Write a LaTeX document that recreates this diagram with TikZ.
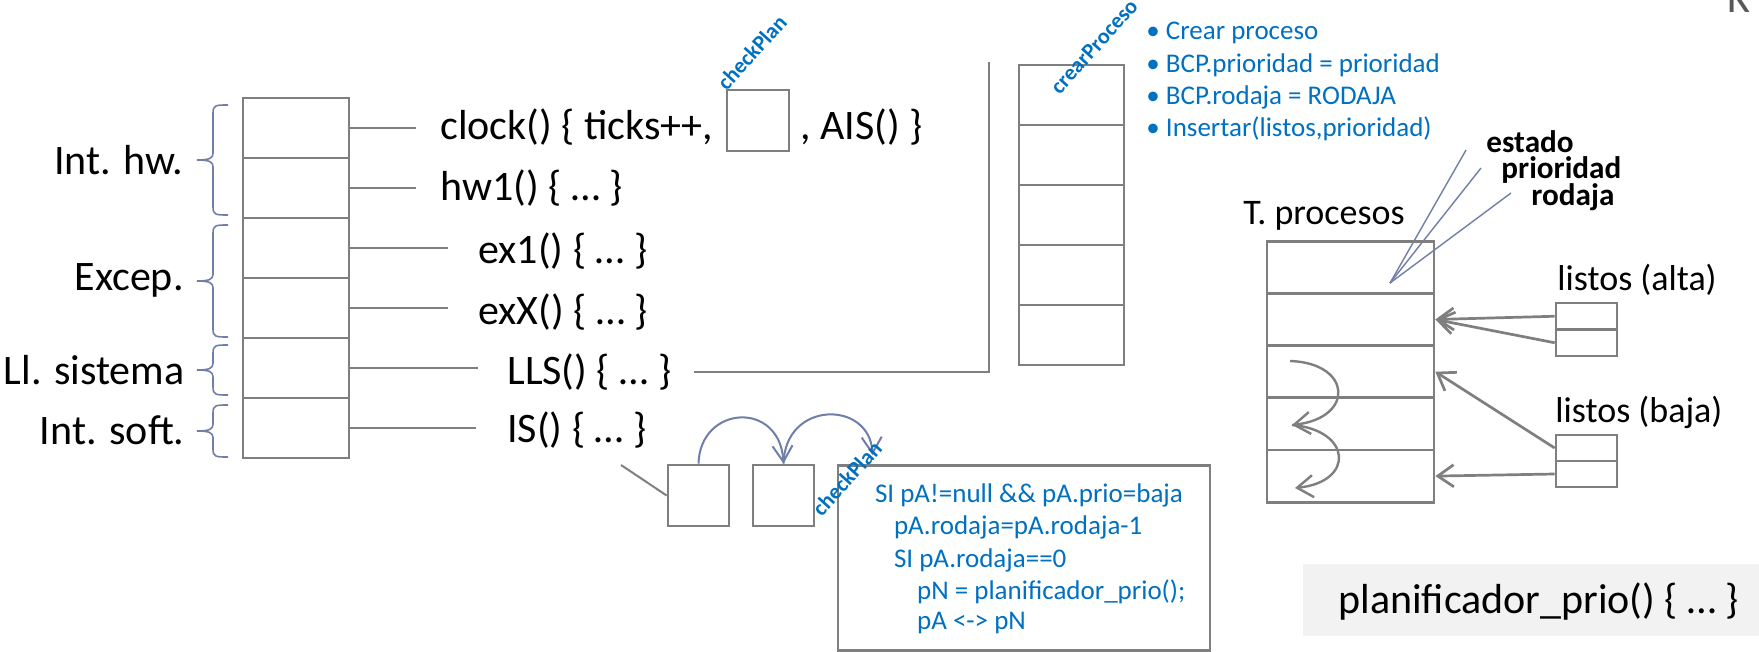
\documentclass[tikz,border=0pt]{standalone}
\usepackage{fontspec}
\setmainfont{Carlito}
\usetikzlibrary{arrows.meta}
\definecolor{lg}{RGB}{127,127,127}
\definecolor{bl}{RGB}{0,112,192}
\definecolor{bg}{RGB}{112,126,168}
\definecolor{pan}{RGB}{242,242,242}
\definecolor{kg}{RGB}{89,89,89}
\begin{document}
\begin{tikzpicture}[x=0.5pt,y=-0.5pt,
  cell/.style={draw=lg, line width=1.35pt, inner sep=0pt},
  gline/.style={draw=lg, line width=1.35pt},
  bline/.style={draw=bg, line width=0.7pt},
  brc/.style={draw=bg, line width=0.8pt},
  txt/.style={font=\fontsize{21}{25}\selectfont, inner sep=0pt},
  stxt/.style={font=\fontsize{18}{22}\selectfont, inner sep=0pt},
  btxt/.style={text=bl, font=\fontsize{13.5}{16}\selectfont, inner sep=0pt, anchor=west},
  rot/.style={text=bl, font=\bfseries\fontsize{11}{13}\selectfont, inner sep=0pt, anchor=south west, rotate=48},
  lab/.style={font=\bfseries\fontsize{15.6}{18}\selectfont, inner sep=0pt, anchor=west},
  arr/.style={-{Straight Barb[length=8pt,width=11pt]}},
]
\useasboundingbox (0,0) rectangle (1759,652);

% ---------- left vector stack
\foreach \i/\y in {1/128,2/188,3/248,4/308,5/368,6/428}
  \node[cell, minimum width=53pt, minimum height=30pt] (s\i) at (296,\y) {};

% braces and their labels
\foreach \t/\b in {105/215, 225/337, 345/395, 405/457}{
  \pgfmathsetmacro\m{(\t+\b)/2}
  \draw[brc] (228,\t) .. controls (216,\t) and (213,\t) .. (213,\t+8)
    -- (213,\m-7) .. controls (213,\m-2) and (210,\m) .. (197,\m)
    .. controls (210,\m) and (213,\m+2) .. (213,\m+7)
    -- (213,\b-8) .. controls (213,\b) and (216,\b) .. (228,\b);
}
\node[txt, anchor=east] (lhw) at (184,160) {Int. hw.};
\node[txt, anchor=east] (lex) at (184,280) {Excep.};
\node[txt, anchor=east] (lls) at (185,370) {Ll. sistema};
\node[txt, anchor=east] (lis) at (185,430) {Int. soft.};

% handlers
\node[txt, anchor=west] (t1) at (440,127) {clock() \{ ticks++,};
\node[cell, minimum width=31pt, minimum height=30.5pt] (cp) at (758,120.5) {};
\node[txt, anchor=west] (t1b) at (800,127) {, AIS() \}};
\node[rot] (cpl1) at (727,92) {checkPlan};
\node[txt, anchor=west] (t2) at (440,188) {hw1() \{ … \}};
\node[txt, anchor=west] (t3) at (478,251) {ex1() \{ … \}};
\node[txt, anchor=west] (t4) at (478,312) {exX() \{ … \}};
\node[txt, anchor=west] (t5) at (507,372) {LLS() \{ … \}};
\node[txt, anchor=west] (t6) at (507,430) {IS() \{ … \}};

\draw[gline] (s1.east) -- ++(66,0);
\draw[gline] (s2.east) -- ++(66,0);
\draw[gline] (s3.east) -- ++(98,0);
\draw[gline] (s4.east) -- ++(98,0);
\draw[gline] (s5.east) -- ++(128,0);
\draw[gline] (s6.east) -- ++(126,0);

% LLS to system-call table
\coordinate (lt) at (989,62);
\draw[gline] ([xshift=11pt]t5.east) -- (lt |- t5.east) -- (lt);

% ---------- system call table
\foreach \i/\y in {1/95,2/155,3/215,4/275,5/335}
  \node[cell, minimum width=52.5pt, minimum height=30pt] (c\i) at (1071.5,\y) {};
\node[rot] (crl) at (1060,96) {crearProceso};

\node[btxt] (bu1) at (1146,33) {• Crear proceso};
\node[btxt] (bu2) at (1146,65) {• BCP.prioridad = prioridad};
\node[btxt] (bu3) at (1146,97) {• BCP.rodaja = RODAJA};
\node[btxt] (bu4) at (1146,129) {• Insertar(listos,prioridad)};

% ---------- process table
\node[lab] (est) at (1486,142) {estado};
\node[lab] (pri) at (1501,170) {prioridad};
\node[lab] (rod) at (1531,197) {rodaja};
\coordinate (ptr) at (1390,283);
\coordinate (pe) at (1466,150);
\coordinate (pp) at (1481,168);
\coordinate (pr) at (1511,193);
\draw[bline] (pe) -- (ptr);
\draw[bline] (pp) -- (ptr);
\draw[bline] (pr) -- (ptr);

\node[stxt, anchor=west] (tp) at (1243,216) {T. procesos};
\foreach \i/\y in {1/267.3,2/319.5,3/371.7,4/423.9,5/476.1}
  \node[cell, minimum width=83.5pt, minimum height=26.1pt] (T\i) at (1350.5,\y) {};

\node[stxt, anchor=west] (la) at (1557,280) {listos (alta)};
\node[cell, minimum width=30.5pt, minimum height=13.25pt] (a1) at (1586.5,316.25) {};
\node[cell, minimum width=30.5pt, minimum height=13.25pt] (a2) at (1586.5,342.75) {};
\node[stxt, anchor=west] (lb) at (1555,412) {listos (baja)};
\node[cell, minimum width=30.5pt, minimum height=13pt] (b1) at (1586.5,448) {};
\node[cell, minimum width=30.5pt, minimum height=13pt] (b2) at (1586.5,474) {};

\draw[gline, arr] (a1.west) -- (T2.east);
\draw[gline, arr] (a2.west) -- (T2.east);
\draw[gline, arr] (b1.west) -- (T3.east);
\draw[gline, arr] (b2.west) -- (T5.east);

\coordinate (k0) at (1290,361);
\coordinate (k1) at (1292,425);
\coordinate (k2) at (1295,488);
\draw[gline, line width=1.2pt, arr] (k0) .. controls (1352,363) and (1355,418) .. (k1);
\draw[gline, line width=1.2pt, arr] (k1) .. controls (1352,430) and (1355,482) .. (k2);

% ---------- soft interrupt queue
\node[cell, minimum width=30.5pt, minimum height=30.5pt] (qA) at (698.5,495.5) {};
\node[cell, minimum width=30.5pt, minimum height=30.5pt] (qB) at (783.5,495.5) {};
\coordinate (isx) at (621,465);
\draw[gline, line width=1pt] (isx) -- (qA.west);
\coordinate (cpend) at (872.5,455);
\draw[draw=bg, line width=1pt, -{Straight Barb[length=8pt,width=10pt]}] (qA.north) .. controls (700,405) and (780,400) .. (qB.north);
\draw[draw=bg, line width=1pt, -{Straight Barb[length=8pt,width=10pt]}] (qB.north) .. controls (785,400) and (870,400) .. (cpend);

\node[cell, minimum width=186pt, minimum height=92.5pt] (code) at (1024,558) {};
\node[rot] (cpl2) at (822,518) {checkPlan};
\node[btxt] (l1) at (874.6,495) {SI pA!=null \&\& pA.prio=baja};
\node[btxt] (l2) at (893.6,527) {pA.rodaja=pA.rodaja-1};
\node[btxt] (l3) at (893.6,560) {SI pA.rodaja==0};
\node[btxt] (l4) at (916.7,592) {pN = planificador\_prio();};
\node[btxt] (l5) at (916.7,623) {pA <-> pN};

% ---------- scheduler
\node[fill=pan, minimum width=228pt, minimum height=36pt, inner sep=0pt, anchor=north west] (panel) at (1303,564) {};
\node[txt, anchor=west] (ppt) at (1338,602) {planificador\_prio() \{ … \}};

\node[font=\fontsize{22}{26}\selectfont, text=kg, inner sep=0pt, anchor=base west] (kk) at (1727,13) {K};
\end{tikzpicture}
\end{document}
